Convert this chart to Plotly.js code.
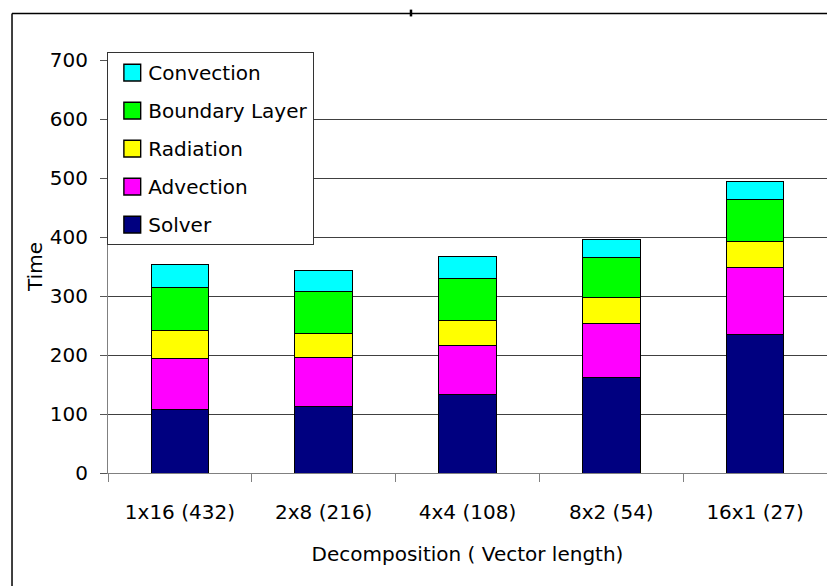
<!DOCTYPE html>
<html>
<head>
<meta charset="utf-8">
<script src="https://cdn.plot.ly/plotly-3.0.1.min.js"></script>
<style>
  html, body { margin: 0; padding: 0; background: #fff; }
  #chart { width: 827px; height: 586px; }
</style>
</head>
<body>
<div id="chart"></div>
<script>
// Decomposition labels (vector length in parentheses)
const categories = ['1x16 (432)', '2x8 (216)', '4x4 (108)', '8x2 (54)', '16x1 (27)'];

// Time spent in each component, stacked bottom to top
const solver        = [107, 112, 133, 162, 235];
const advection     = [87, 83, 83, 92, 114];
const radiation     = [47, 42, 43, 43, 44];
const boundaryLayer = [73, 71, 71, 68, 71];
const convection    = [40, 36, 37, 31, 30];

const seriesNames  = ['Solver', 'Advection', 'Radiation', 'Boundary Layer', 'Convection'];
const seriesValues = [solver, advection, radiation, boundaryLayer, convection];
const seriesColors = ['#000080', '#FF00FF', '#FFFF00', '#00FF00', '#00FFFF'];

const yTicks = [0, 100, 200, 300, 400, 500, 600, 700];

const FONT = '"Comic Sans MS", "DejaVu Sans", sans-serif';
const FS = 20;

// legend lists the top segment first
const traces = seriesNames.map((name, i) => ({
  type: 'bar',
  name: name,
  x: categories,
  y: seriesValues[i],
  legendgroup: name,
  legendrank: seriesNames.length - i,
  marker: { color: seriesColors[i], line: { color: '#000000', width: 1 } },
  hoverinfo: 'x+y+name'
}));

const layout = {
  width: 827,
  height: 586,
  margin: { l: 108, r: 0, t: 60, b: 113 },
  paper_bgcolor: '#ffffff',
  plot_bgcolor: '#ffffff',
  barmode: 'stack',
  bargap: 0.6,
  font: { family: FONT, size: FS, color: '#000000' },
  showlegend: true,
  legend: {
    x: -0.001, y: 1.019, xanchor: 'left', yanchor: 'top',
    bgcolor: '#ffffff', bordercolor: '#333333', borderwidth: 1,
    traceorder: 'grouped',
    tracegroupgap: 9,
    font: { family: FONT, size: FS, color: '#000000' }
  },
  xaxis: {
    type: 'category',
    showline: true, linecolor: '#808080', linewidth: 1,
    ticks: 'outside', tickson: 'boundaries', ticklen: 8, tickcolor: '#808080',
    ticklabelstandoff: 21,
    showgrid: false, zeroline: false,
    tickfont: { family: FONT, size: FS, color: '#000000' },
    title: { text: 'Decomposition ( Vector length)', standoff: 23,
             font: { family: FONT, size: FS, color: '#000000' } },
    automargin: false
  },
  yaxis: {
    range: [0, 700],
    tickvals: yTicks,
    ticktext: yTicks.map(String),
    showline: true, linecolor: '#808080', linewidth: 1,
    ticks: 'outside', ticklen: 7, tickcolor: '#555555',
    ticklabelstandoff: 8,
    showgrid: true, gridcolor: '#404040', gridwidth: 1,
    zeroline: false,
    tickfont: { family: FONT, size: FS, color: '#000000' },
    title: { text: 'Time', standoff: 1,
             font: { family: FONT, size: FS, color: '#000000' } },
    automargin: false
  },
  shapes: [
    // chart frame: top and left edges
    { type: 'line', xref: 'paper', yref: 'paper',
      x0: -0.1335, x1: 1.01, y0: 1.1126, y1: 1.1126,
      line: { color: '#000000', width: 1.5 } },
    { type: 'line', xref: 'paper', yref: 'paper',
      x0: -0.1335, x1: -0.1335, y0: 1.1126, y1: -0.3,
      line: { color: '#000000', width: 1.5 } },
    // small mark on the top edge
    { type: 'line', xref: 'paper', yref: 'paper',
      x0: 0.4214, x1: 0.4214, y0: 1.122, y1: 1.1055,
      line: { color: '#000000', width: 2.5 } }
  ]
};

// enlarge the legend swatches a little and nudge them right
function enlargeSwatches(gd) {
  gd.querySelectorAll('.legend .legendpoints path').forEach(p => {
    const b = p.getBBox();
    const cx = b.x + b.width / 2, cy = b.y + b.height / 2;
    const prev = p.getAttribute('transform') || '';
    p.setAttribute('transform',
      prev + ` translate(${cx + 4},${cy}) scale(1.4) translate(${-cx},${-cy})`);
  });
}

Plotly.newPlot('chart', traces, layout, { displayModeBar: false, staticPlot: true })
  .then(enlargeSwatches);
</script>
</body>
</html>
